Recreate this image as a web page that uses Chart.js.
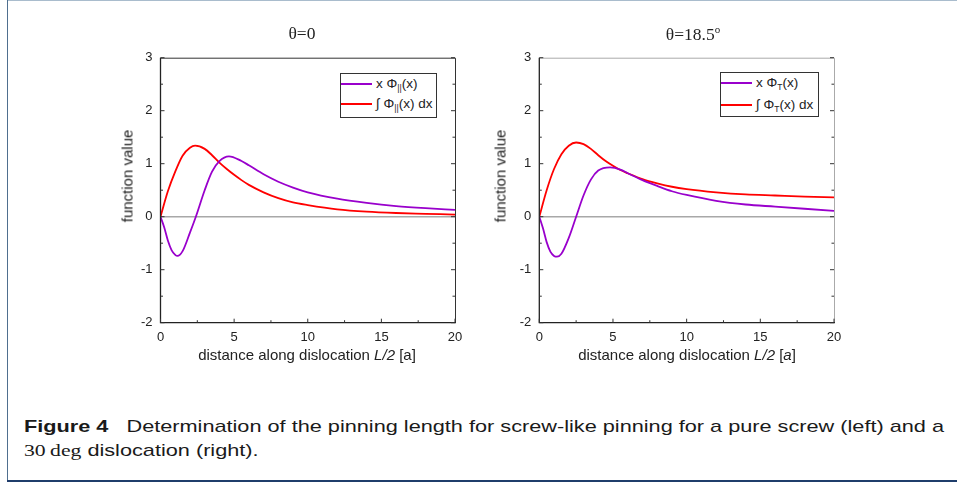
<!DOCTYPE html>
<html>
<head>
<meta charset="utf-8">
<script src="https://cdn.jsdelivr.net/npm/chart.js@4"></script>
<style>
  body { margin: 0; background: #fff; }
  #page { position: relative; width: 957px; height: 482px; overflow: hidden; background: #fff; font-family: "Liberation Sans", Arial, sans-serif; color: #222; }
  .frame-top { position: absolute; left: 7px; top: 0; width: 950px; height: 1px; background: #a9bccd; }
  .frame-left { position: absolute; left: 7px; top: 0; width: 1px; height: 481px; background: #4f6f8f; }
  .frame-bottom { position: absolute; left: 7px; top: 480px; width: 950px; height: 2px; background: #1f3d6b; }
  canvas { position: absolute; }
  .txt { position: absolute; white-space: nowrap; transform: translate(-50%, -50%); }
  .ttl { font-family: "Liberation Serif", "Times New Roman", serif; font-size: 17.5px; }
  .xt { font-size: 15px; }
  .yt { font-size: 15px; transform: translate(-50%, -50%) rotate(-90deg); }
  .leg { position: absolute; border: 1px solid #333; background: #fff; font-size: 13.5px; }
  .leg .sw { position: absolute; left: 0; width: 31px; height: 2px; }
  .leg .lab { position: absolute; left: 35px; transform: translateY(-50%); white-space: nowrap; }
  .leg sub { font-size: 8.5px; vertical-align: -3px; }
  .cap { position: absolute; left: 24px; font-family: "Liberation Sans", sans-serif; font-size: 17px; white-space: nowrap; transform-origin: 0 50%; color: #1a1a1a; }
  .cap .m { font-family: "Liberation Serif", serif; }
</style>
</head>
<body>
<div id="page">
  <div class="frame-top"></div>
  <div class="frame-left"></div>
  <div class="frame-bottom"></div>

  <canvas id="chartLeft" width="380" height="310" style="left:90px; top:40px; width:380px; height:310px;"></canvas>
  <canvas id="chartRight" width="380" height="310" style="left:480px; top:40px; width:380px; height:310px;"></canvas>

  <div class="txt ttl" style="left:302px; top:33px;">θ=0</div>
  <div class="txt ttl" style="left:693px; top:34px;">θ=18.5<sup style="font-size:11px;">o</sup></div>

  <div class="txt xt" style="left:307px; top:354px;">distance along dislocation <i>L/2</i> [a]</div>
  <div class="txt xt" style="left:687px; top:354px;">distance along dislocation <i>L/2</i> [<i>a</i>]</div>
  <div class="txt yt" style="left:127px; top:176px;">function value</div>
  <div class="txt yt" style="left:500px; top:176px;">function value</div>

  <div class="leg" style="left:340px; top:73px; width:95px; height:43px;">
    <div class="sw" style="top:9px; background:#9900cc;"></div>
    <div class="lab" style="top:10px;">x Φ<sub>||</sub>(x)</div>
    <div class="sw" style="top:29px; background:#ff0000;"></div>
    <div class="lab" style="top:30px;">∫ Φ<sub>||</sub>(x) dx</div>
  </div>
  <div class="leg" style="left:720px; top:72px; width:97px; height:43px;">
    <div class="sw" style="top:9px; background:#9900cc;"></div>
    <div class="lab" style="top:10px;">x Φ<sub>T</sub>(x)</div>
    <div class="sw" style="top:31px; background:#ff0000;"></div>
    <div class="lab" style="top:32px;">∫ Φ<sub>T</sub>(x) dx</div>
  </div>

  <div class="cap" id="cap1" style="top:417px;"><b>Figure 4</b>&nbsp;&nbsp; Determination of the pinning length for screw-like pinning for a pure screw (left) and a</div>
  <div class="cap" id="cap2" style="top:441px;"><span class="m">30&#8201;deg</span> dislocation (right).</div>
</div>

<script>
// valores (esquerda: theta = 0)
const xEsq = [0, 0.25, 0.5, 0.75, 1, 1.15, 1.5, 2, 2.4, 3, 3.5, 4, 4.65, 5.5, 6, 7, 8, 9, 10, 12, 14, 16, 18, 20];
const phiParalelo = [0, -0.2, -0.45, -0.63, -0.72, -0.74, -0.65, -0.3, 0, 0.5, 0.85, 1.05, 1.14, 1.05, 0.97, 0.8, 0.66, 0.55, 0.46, 0.34, 0.26, 0.2, 0.16, 0.13];
const xEsqInt = [0, 0.5, 1, 1.5, 2, 2.35, 3, 3.5, 4, 4.5, 5, 5.5, 6, 7, 8, 9, 10, 12, 14, 16, 18, 20];
const intParalelo = [0, 0.48, 0.85, 1.15, 1.3, 1.34, 1.28, 1.16, 1.02, 0.9, 0.79, 0.69, 0.6, 0.46, 0.35, 0.27, 0.22, 0.14, 0.095, 0.07, 0.055, 0.04];

// valores (direita: theta = 18.5)
const xDir = [0, 0.25, 0.5, 0.75, 1, 1.2, 1.5, 2, 2.5, 3, 3.5, 4, 4.8, 5.5, 6, 7, 8, 9, 10, 12, 14, 16, 18, 20];
const phiT = [0, -0.22, -0.48, -0.66, -0.74, -0.755, -0.7, -0.4, 0, 0.4, 0.7, 0.87, 0.93, 0.89, 0.82, 0.69, 0.58, 0.48, 0.41, 0.3, 0.23, 0.19, 0.15, 0.11];
const xDirInt = [0, 0.5, 1, 1.5, 2, 2.5, 3, 3.5, 4, 4.5, 5, 5.5, 6, 7, 8, 9, 10, 12, 14, 16, 18, 20];
const intT = [0, 0.5, 0.9, 1.18, 1.34, 1.4, 1.37, 1.28, 1.16, 1.05, 0.96, 0.88, 0.82, 0.71, 0.63, 0.565, 0.52, 0.46, 0.42, 0.4, 0.38, 0.365];

const roxo = '#9900cc';
const vermelho = '#ff0000';

function pontos(xs, ys) {
  return xs.map((x, i) => ({ x: x, y: ys[i] }));
}

// moldura, linha do zero e marcas internas
function pluginMoldura(corTopoDireita) {
  return {
    id: 'moldura',
    beforeDatasetsDraw(chart) {
      const ctx = chart.ctx;
      const a = chart.chartArea;
      const y0 = chart.scales.y.getPixelForValue(0);
      ctx.save();
      ctx.strokeStyle = '#a8a8a8';
      ctx.lineWidth = 1.5;
      ctx.beginPath();
      ctx.moveTo(a.left, y0);
      ctx.lineTo(a.right, y0);
      ctx.stroke();
      ctx.restore();
    },
    afterDraw(chart) {
      const ctx = chart.ctx;
      const a = chart.chartArea;
      const sx = chart.scales.x;
      const sy = chart.scales.y;
      ctx.save();
      ctx.lineWidth = 1;
      ctx.strokeStyle = corTopoDireita;
      ctx.beginPath();
      ctx.moveTo(a.left, a.top + 0.5);
      ctx.lineTo(a.right + 0.5, a.top + 0.5);
      ctx.lineTo(a.right + 0.5, a.bottom);
      ctx.stroke();
      ctx.strokeStyle = '#222';
      ctx.lineWidth = 1.3;
      ctx.beginPath();
      ctx.moveTo(a.left, a.top);
      ctx.lineTo(a.left, a.bottom);
      ctx.lineTo(a.right + 1, a.bottom);
      ctx.stroke();

      ctx.lineWidth = 1;
      ctx.strokeStyle = '#333';
      ctx.beginPath();
      const ty = sy.ticks.map(t => t.value);
      ty.forEach((v, i) => {
        const p = sy.getPixelForValue(v);
        ctx.moveTo(a.left, p); ctx.lineTo(a.left + 4, p);
        ctx.moveTo(a.right, p); ctx.lineTo(a.right - 4, p);
        if (i < ty.length - 1) {
          const m = sy.getPixelForValue((v + ty[i + 1]) / 2);
          ctx.moveTo(a.left, m); ctx.lineTo(a.left + 2.5, m);
          ctx.moveTo(a.right, m); ctx.lineTo(a.right - 2.5, m);
        }
      });
      const tx = sx.ticks.map(t => t.value);
      tx.forEach((v, i) => {
        const p = sx.getPixelForValue(v);
        ctx.moveTo(p, a.bottom); ctx.lineTo(p, a.bottom - 4);
        if (i < tx.length - 1) {
          const m = sx.getPixelForValue((v + tx[i + 1]) / 2);
          ctx.moveTo(m, a.bottom); ctx.lineTo(m, a.bottom - 2.5);
        }
      });
      ctx.stroke();
      ctx.restore();
    }
  };
}

function criarGrafico(id, serie1, serie2, esquerda, direita, corTopoDireita) {
  return new Chart(document.getElementById(id).getContext('2d'), {
    type: 'line',
    data: {
      datasets: [
        { data: serie1, borderColor: roxo, borderWidth: 1.8, pointRadius: 0, cubicInterpolationMode: 'monotone', fill: false },
        { data: serie2, borderColor: vermelho, borderWidth: 1.8, pointRadius: 0, cubicInterpolationMode: 'monotone', fill: false }
      ]
    },
    options: {
      responsive: false,
      animation: false,
      events: [],
      layout: { padding: { top: 17.7, right: 380 - direita, left: 0, bottom: 0 } },
      plugins: { legend: { display: false }, tooltip: { enabled: false } },
      scales: {
        x: {
          type: 'linear', min: 0, max: 20,
          grid: { display: false, drawTicks: false },
          border: { display: false },
          ticks: { stepSize: 5, padding: 7, color: '#222', font: { family: 'Liberation Sans', size: 13 } },
          afterFit(scale) { scale.height = 27.3; }
        },
        y: {
          min: -2, max: 3,
          grid: { display: false, drawTicks: false },
          border: { display: false },
          ticks: { stepSize: 1, padding: 8, color: '#222', font: { family: 'Liberation Sans', size: 13 } },
          afterFit(scale) { scale.width = esquerda; }
        }
      }
    },
    plugins: [pluginMoldura(corTopoDireita)]
  });
}

criarGrafico('chartLeft', pontos(xEsq, phiParalelo), pontos(xEsqInt, intParalelo), 70.5, 365, '#333');
criarGrafico('chartRight', pontos(xDir, phiT), pontos(xDirInt, intT), 59.3, 354, '#aaa');

// legenda da figura ocupa a largura da linha original
const c1 = document.getElementById('cap1');
const w1 = c1.getBoundingClientRect().width;
c1.style.transform = 'scaleX(' + (920 / w1) + ')';
const c2 = document.getElementById('cap2');
c2.style.transform = 'scaleX(' + (920 / w1) + ')';
</script>
</body>
</html>
